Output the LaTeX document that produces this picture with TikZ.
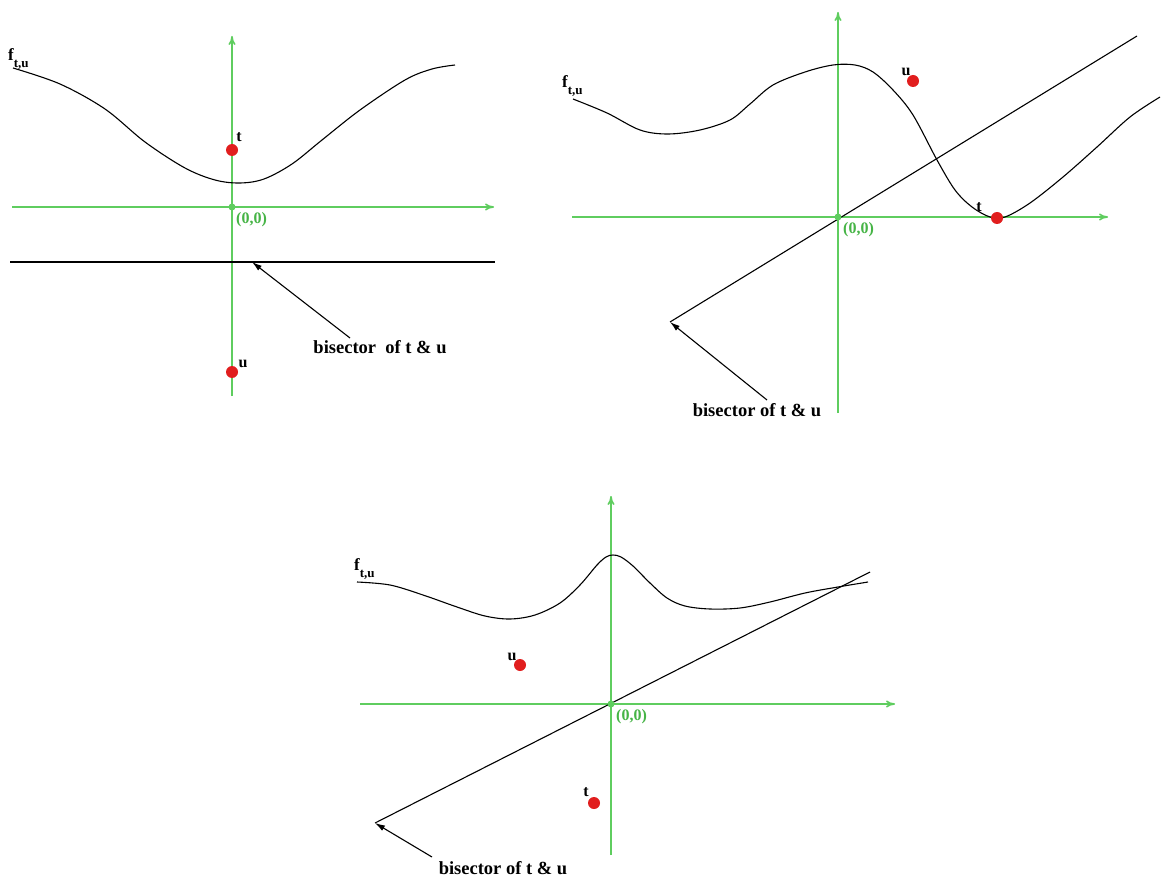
\documentclass[tikz,border=0pt]{standalone}
\usepackage{fontspec}
\setmainfont{Liberation Serif}
\usetikzlibrary{arrows.meta}
\definecolor{axisgreen}{RGB}{95,205,95}
\definecolor{labgreen}{RGB}{70,180,70}
\definecolor{dotred}{RGB}{225,30,30}
\tikzset{
  axisline/.style={draw=axisgreen, line width=1.6pt, -{To[length=9pt,width=7pt]}},
  fcurve/.style={draw=black, line width=1.1pt, smooth, tension=0.55},
  bisline/.style={draw=black, line width=1.1pt},
  pointer/.style={draw=black, line width=1.1pt, -{Latex[length=10pt,width=6pt]}},
  reddot/.style={circle, fill=dotred, inner sep=0pt, minimum size=12pt},
  origindot/.style={circle, fill=axisgreen, inner sep=0pt, minimum size=7pt},
  ptlbl/.style={font=\bfseries\fontsize{16}{16}\selectfont, inner sep=0pt},
  olbl/.style={text=labgreen, font=\bfseries\fontsize{16}{16}\selectfont, inner sep=0pt, anchor=north west},
  btext/.style={font=\bfseries\fontsize{18.5}{18.5}\selectfont, inner sep=0pt},
  flbl/.style={font=\bfseries\fontsize{17}{17}\selectfont, inner sep=0pt, anchor=base west}
}
\newcommand{\ftu}{f\raisebox{-7pt}{\fontsize{13}{13}\selectfont t,u}}
\begin{document}
\begin{tikzpicture}[x=1pt,y=-1pt]
\fill[white] (0,0) rectangle (1166,882);
\useasboundingbox (0,0) rectangle (1166,882);

% ---------------- Panel 1 ----------------
\coordinate (o1) at (232,207);
\coordinate (x1l) at (12,207);
\coordinate (x1r) at (494,207);
\coordinate (y1b) at (232,396);
\coordinate (y1t) at (232,36);
\coordinate (b1l) at (10,262);
\coordinate (b1r) at (495,262);
\coordinate (p1) at (252,262);
\coordinate (a1) at (350,338);
\draw[axisline] (x1l) -- (x1r);
\draw[axisline] (y1b) -- (y1t);
\draw[bisline] (b1l) -- (b1r);
\draw[fcurve] plot coordinates {(13,68) (60,84) (105,109) (145,142) (185,168) (215,180) (240,183) (264,179) (292,164) (322,140) (360,110) (405,80) (432,69) (455,65)};
\node[origindot] (od1) at (o1) {};
\node[olbl] (ol1) at (236,212) {(0,0)};
\node[reddot] (t1) at (232,150) {};
\node[ptlbl] (tl1) at (239,137) {t};
\node[reddot] (u1) at (232,372) {};
\node[ptlbl] (ul1) at (243,364) {u};
\node[flbl] (f1) at (8,61) {\ftu};
\node[btext] (bt1) at (380,347) {bisector~~of t \& u};
\draw[pointer] (a1) -- (p1);

% ---------------- Panel 2 ----------------
\coordinate (o2) at (838,217);
\coordinate (x2l) at (572,217);
\coordinate (x2r) at (1108,217);
\coordinate (y2b) at (838,413);
\coordinate (y2t) at (838,12);
\coordinate (b2l) at (670,322);
\coordinate (b2r) at (1137,36);
\coordinate (a2) at (767,400);
\draw[axisline] (x2l) -- (x2r);
\draw[axisline] (y2b) -- (y2t);
\draw[bisline] (b2l) -- (b2r);
\draw[fcurve] plot coordinates {(573,99) (607,113) (640,130) (668,134) (700,130) (730,120) (750,104) (773,85) (805,72) (833,65) (855,65) (873,72) (893,90) (913,115) (937,160) (955,190) (972,207) (990,217) (1005,217) (1030,203) (1063,177) (1097,147) (1130,117) (1160,97)};
\node[origindot] (od2) at (o2) {};
\node[olbl] (ol2) at (843,222) {(0,0)};
\node[reddot] (u2) at (913,81) {};
\node[ptlbl] (ul2) at (906,72) {u};
\node[reddot] (t2) at (997,218) {};
\node[ptlbl] (tl2) at (979,207) {t};
\node[flbl] (f2) at (562,88) {\ftu};
\node[btext] (bt2) at (757,410) {bisector of t \& u};
\draw[pointer] (a2) -- (b2l);

% ---------------- Panel 3 ----------------
\coordinate (o3) at (611,704);
\coordinate (x3l) at (360,704);
\coordinate (x3r) at (895,704);
\coordinate (y3b) at (611,855);
\coordinate (y3t) at (611,496);
\coordinate (b3l) at (375,823);
\coordinate (b3r) at (870,572);
\coordinate (a3) at (432,857);
\draw[axisline] (x3l) -- (x3r);
\draw[axisline] (y3b) -- (y3t);
\draw[bisline] (b3l) -- (b3r);
\draw[fcurve] plot coordinates {(357,582) (390,585) (423,595) (457,607) (485,616) (510,619) (535,615) (560,603) (580,585) (597,565) (606,557) (613,555) (621,557) (633,566) (650,583) (667,598) (685,606) (710,609) (740,608) (770,602) (805,593) (838,587) (868,582)};
\node[origindot] (od3) at (o3) {};
\node[olbl] (ol3) at (616,709) {(0,0)};
\node[reddot] (u3) at (520,665) {};
\node[ptlbl] (ul3) at (512,657) {u};
\node[reddot] (t3) at (594,803) {};
\node[ptlbl] (tl3) at (586,792) {t};
\node[flbl] (f3) at (354,570) {\ftu};
\node[btext] (bt3) at (503,868) {bisector of t \& u};
\draw[pointer] (a3) -- (b3l);
\end{tikzpicture}
\end{document}
